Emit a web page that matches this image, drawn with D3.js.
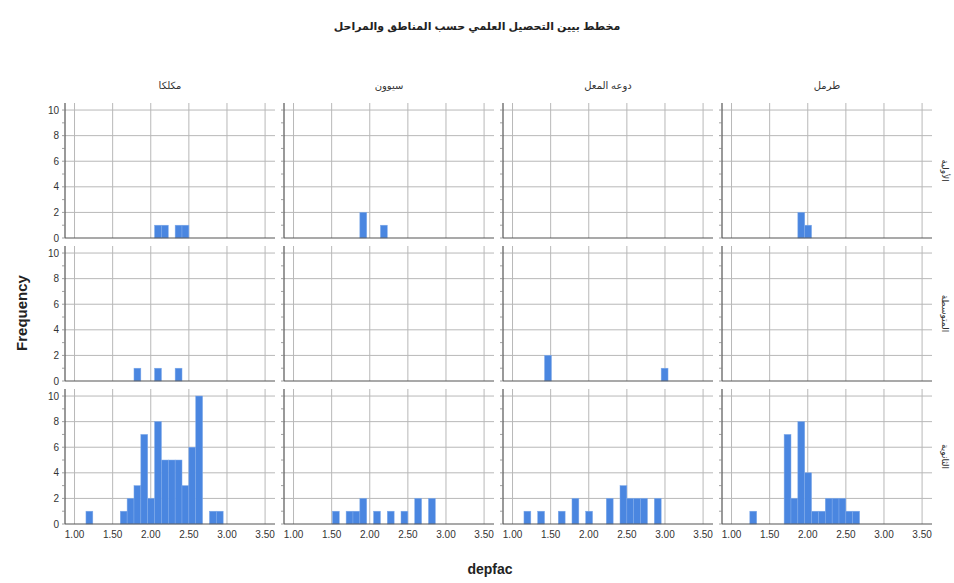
<!DOCTYPE html>
<html>
<head>
<meta charset="utf-8">
<script src="https://cdn.jsdelivr.net/npm/d3@7"></script>
<style>
  html, body { margin: 0; padding: 0; background: #fff; }
  svg { display: block; font-family: "Liberation Sans", Arial, "DejaVu Sans", sans-serif; }
</style>
</head>
<body>
<svg id="chart" width="954" height="583"></svg>
<script>
// Panel facets: regions across, stages down
const regions = ["مكلكا", "سيوون", "دوعه المعل", "طرمل"];
const stages = ["الأولية", "المتوسطة", "الثانوية"];
const chartTitle = "مخطط بيين التحصيل العلمي حسب المناطق والمراحل";
const xTitle = "depfac";
const yTitle = "Frequency";
const xTicks = [1.0, 1.5, 2.0, 2.5, 3.0, 3.5];
const yTicks = [0, 2, 4, 6, 8, 10];

// Histogram bins: [bin start, count], shared bin width
const binWidth = 0.09;
const bins = [
  // الأولية
  [
    [[2.05, 1], [2.14, 1], [2.32, 1], [2.41, 1]],
    [[1.87, 2], [2.14, 1]],
    [],
    [[1.87, 2], [1.96, 1]]
  ],
  // المتوسطة
  [
    [[1.78, 1], [2.05, 1], [2.32, 1]],
    [],
    [[1.42, 2], [2.95, 1]],
    []
  ],
  // الثانوية
  [
    [[1.15, 1], [1.60, 1], [1.69, 2], [1.78, 3], [1.87, 7], [1.96, 2], [2.05, 8], [2.14, 5],
     [2.23, 5], [2.32, 5], [2.41, 3], [2.50, 6], [2.59, 10], [2.77, 1], [2.86, 1]],
    [[1.51, 1], [1.69, 1], [1.78, 1], [1.87, 2], [2.05, 1], [2.23, 1], [2.41, 1], [2.59, 2], [2.77, 2]],
    [[1.15, 1], [1.33, 1], [1.60, 1], [1.78, 2], [1.96, 1], [2.23, 2], [2.41, 3], [2.50, 2],
     [2.59, 2], [2.68, 2], [2.86, 2]],
    [[1.24, 1], [1.69, 7], [1.78, 2], [1.87, 8], [1.96, 4], [2.05, 1], [2.14, 1], [2.23, 2],
     [2.32, 2], [2.41, 2], [2.50, 1], [2.59, 1]]
  ]
];

const svg = d3.select("#chart");

const panelW = 210, panelH = 135;
const colX = [65, 284, 503, 722];
const rowBase = [238, 381, 524];

const x = d3.scaleLinear().domain([0.875, 3.63]).range([0, panelW]);
const y = d3.scaleLinear().domain([0, 10.55]).range([panelH, 0]);

const gridColor = "#b8b8b8";
const axisColor = "#555";
const barColor = "#4a86e0";

stages.forEach((stage, r) => {
  regions.forEach((region, c) => {
    const g = svg.append("g")
      .attr("transform", `translate(${colX[c]},${rowBase[r] - panelH})`);

    // grid
    g.append("g").selectAll("line.v").data(xTicks).join("line")
      .attr("x1", d => x(d)).attr("x2", d => x(d))
      .attr("y1", 0).attr("y2", panelH)
      .attr("stroke", gridColor).attr("stroke-width", 1);
    g.append("g").selectAll("line.h").data(yTicks.filter(d => d > 0)).join("line")
      .attr("x1", 0).attr("x2", panelW)
      .attr("y1", d => y(d)).attr("y2", d => y(d))
      .attr("stroke", gridColor).attr("stroke-width", 1);

    // bars
    g.append("g").selectAll("rect").data(bins[r][c]).join("rect")
      .attr("x", d => x(d[0]))
      .attr("width", d => x(d[0] + binWidth) - x(d[0]))
      .attr("y", d => y(d[1]))
      .attr("height", d => y(0) - y(d[1]))
      .attr("fill", barColor)
      .attr("stroke", "#7ea9ea")
      .attr("stroke-width", 0.5);

    // axes lines
    g.append("line").attr("x1", 0).attr("x2", 0).attr("y1", 0).attr("y2", panelH)
      .attr("stroke", axisColor).attr("stroke-width", 1.2);
    g.append("line").attr("x1", 0).attr("x2", panelW).attr("y1", panelH).attr("y2", panelH)
      .attr("stroke", axisColor).attr("stroke-width", 1.2);

    // small ticks on left axis
    g.append("g").selectAll("line.t").data(d3.range(0, 11)).join("line")
      .attr("x1", -3).attr("x2", 0)
      .attr("y1", d => y(d)).attr("y2", d => y(d))
      .attr("stroke", "#888").attr("stroke-width", 0.8);

    // y tick labels on first column
    if (c === 0) {
      g.append("g").selectAll("text").data(yTicks).join("text")
        .attr("x", -6).attr("y", d => y(d)).attr("dy", "0.35em")
        .attr("text-anchor", "end")
        .attr("font-size", 10).attr("fill", "#333")
        .text(d => d);
    }
    // x tick labels on bottom row
    if (r === stages.length - 1) {
      g.append("g").selectAll("text").data(xTicks).join("text")
        .attr("x", d => x(d)).attr("y", panelH + 14)
        .attr("text-anchor", "middle")
        .attr("font-size", 10).attr("fill", "#333")
        .text(d => d3.format(".2f")(d));
    }
    // column headers
    if (r === 0) {
      g.append("text")
        .attr("x", panelW / 2).attr("y", -14)
        .attr("text-anchor", "middle")
        .attr("font-size", 10).attr("fill", "#333")
        .text(region);
    }
    // row labels
    if (c === regions.length - 1) {
      g.append("text")
        .attr("transform", `translate(${panelW + 10},${panelH / 2}) rotate(90)`)
        .attr("text-anchor", "middle")
        .attr("font-size", 9).attr("fill", "#333")
        .text(stage);
    }
  });
});

// titles
svg.append("text")
  .attr("x", 477).attr("y", 30)
  .attr("text-anchor", "middle")
  .attr("font-size", 11).attr("font-weight", "bold").attr("fill", "#222")
  .text(chartTitle);

svg.append("text")
  .attr("x", 490).attr("y", 574)
  .attr("text-anchor", "middle")
  .attr("font-size", 14).attr("font-weight", "bold").attr("fill", "#222")
  .text(xTitle);

svg.append("text")
  .attr("transform", "translate(27,313) rotate(-90)")
  .attr("text-anchor", "middle")
  .attr("font-size", 15).attr("font-weight", "bold").attr("fill", "#222")
  .text(yTitle);
</script>
</body>
</html>
